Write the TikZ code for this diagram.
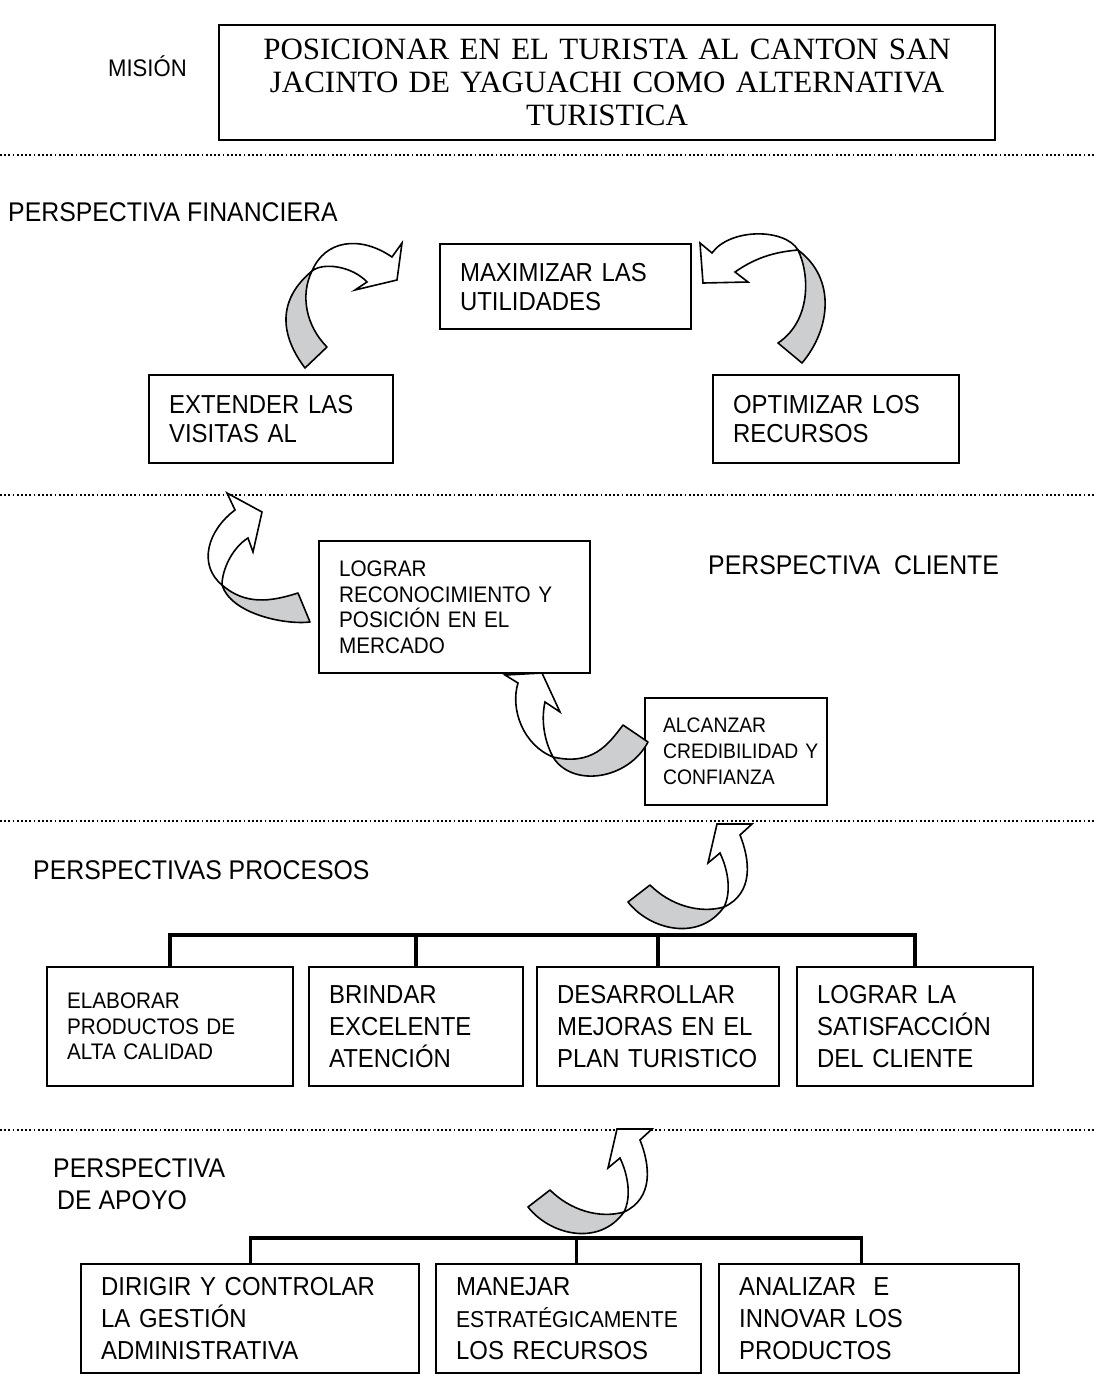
\documentclass[tikz,border=0pt]{standalone}
\usepackage{fontspec}
\setmainfont{Liberation Sans}[FakeStretch=0.92]
\newfontfamily\missionfont{Liberation Serif}
\definecolor{arrowgray}{HTML}{CDCED0}
\newcommand{\twistuparrow}{%
  \draw[garrow] (650,885) .. controls (670,905) and (699,914) .. (724,907)
     .. controls (699,942) and (650,930) .. (628,902) -- cycle;
  \draw[warrow] (724,907) .. controls (754,893) and (750,860) .. (740,835)
     -- (752,824) -- (717,824) -- (708,863) -- (720,853)
     .. controls (729,872) and (731,893) .. (724,907) -- cycle;
}
\begin{document}
\begin{tikzpicture}[x=1pt,y=-1pt,
  box/.style={draw, line width=2.2pt, inner xsep=20pt, inner ysep=0pt, align=left, anchor=north west},
  bigtxt/.style={font=\fontsize{26}{29}\selectfont},
  bigtxtw/.style={font=\fontsize{26}{32}\selectfont},
  smalltxt/.style={font=\fontsize{22.5}{25.5}\selectfont},
  lbl/.style={anchor=west, inner sep=0pt, font=\fontsize{27}{32}\selectfont, align=left},
  tree/.style={line width=4pt},
  stree/.style={line width=3.2pt},
  sep/.style={line width=1.8pt, dash pattern=on 1.8pt off 2.4pt},
  garrow/.style={draw, line width=1.6pt, fill=arrowgray, line join=round},
  warrow/.style={draw, line width=1.6pt, fill=white, line join=miter}]
\useasboundingbox (0,0) rectangle (1096,1382);
\fill[white] (0,0) rectangle (1096,1382);

% separators
\foreach \yy in {155,495,821,1130} \draw[sep] (0,\yy) -- (1096,\yy);

% mission
\node[lbl, font=\fontsize{24}{28}\selectfont] (mision) at (108,66) {MISIÓN};
\node[box, minimum width=776pt, minimum height=115pt, text width=736pt, align=center,
      font=\missionfont\fontsize{31}{33}\selectfont] (mission) at (218,24)
  {POSICIONAR EN EL TURISTA AL CANTON SAN\\JACINTO DE YAGUACHI COMO ALTERNATIVA\\TURISTICA};

% financial perspective
\node[lbl] (pfin) at (8,212) {PERSPECTIVA FINANCIERA};
\node[box, bigtxt, minimum width=251pt, minimum height=85pt, text width=211pt] (maxim) at (439,243)
  {MAXIMIZAR LAS\\UTILIDADES};
\node[box, bigtxt, minimum width=244pt, minimum height=88pt, text width=204pt] (extender) at (148,374)
  {EXTENDER LAS\\VISITAS AL};
\node[box, bigtxt, minimum width=246pt, minimum height=88pt, text width=206pt] (optim) at (712,374)
  {OPTIMIZAR LOS\\RECURSOS};

% arrow extender -> maximizar
\draw[garrow] (305,368) .. controls (280,335) and (277,300) .. (312,271)
   .. controls (300,295) and (306,326) .. (327,347) -- cycle;
\draw[warrow] (312,271) .. controls (325,240) and (360,235) .. (392,257)
   -- (402,243) -- (397,280) -- (355,290) -- (367,282)
   .. controls (352,266) and (323,262) .. (312,271) -- cycle;
% arrow optimizar -> maximizar
\draw[garrow] (802,363) .. controls (830,330) and (837,279) .. (798,250)
   .. controls (810,275) and (811,321) .. (778,343) -- cycle;
\draw[warrow] (798,250) .. controls (785,228) and (730,228) .. (712,253)
   -- (700,243) -- (703,283) -- (748,282) -- (735,272)
   .. controls (755,258) and (774,252) .. (798,250) -- cycle;

% client perspective
\node[lbl] (pcli) at (708,565) {PERSPECTIVA\ \ CLIENTE};
\node[box, smalltxt, minimum width=271pt, minimum height=132pt, text width=231pt] (recon) at (318,540)
  {LOGRAR\\RECONOCIMIENTO~Y\\POSICIÓN~EN~EL\\MERCADO};
\node[box, font=\fontsize{21}{26}\selectfont, inner xsep=18pt, minimum width=182pt, minimum height=107pt, text width=146pt] (alcanzar) at (644,697)
  {ALCANZAR\\CREDIBILIDAD~Y\\CONFIANZA};

% arrow recon -> up
\draw[garrow] (222,585) .. controls (245,605) and (270,602) .. (298,593)
   -- (310,622) .. controls (285,625) and (231,614) .. (222,585) -- cycle;
\draw[warrow] (222,585) .. controls (198,565) and (207,531) .. (235,510)
   -- (227,493) -- (262,512) -- (253,552) -- (248,538)
   .. controls (232,548) and (222,570) .. (222,585) -- cycle;
% arrow alcanzar -> recon
\draw[garrow] (623,725) .. controls (608,745) and (592,766) .. (553,757)
   .. controls (572,788) and (628,780) .. (648,742) -- cycle;
\draw[warrow] (553,757) .. controls (523,745) and (510,709) .. (518,683)
   -- (505,675) -- (542,673) -- (560,712) -- (545,702)
   .. controls (541,720) and (544,740) .. (553,757) -- cycle;

% process perspective
\node[lbl] (pproc) at (33,870) {PERSPECTIVAS PROCESOS};
\node[box, smalltxt, minimum width=246pt, minimum height=119pt, text width=206pt] (elab) at (46,966)
  {ELABORAR\\PRODUCTOS~DE\\ALTA~CALIDAD};
\node[box, bigtxtw, minimum width=214pt, minimum height=119pt, text width=174pt] (brindar) at (308,966)
  {BRINDAR\\EXCELENTE\\ATENCIÓN};
\node[box, bigtxtw, minimum width=242pt, minimum height=119pt, text width=202pt] (desarr) at (536,966)
  {DESARROLLAR\\MEJORAS~EN~EL\\PLAN~TURISTICO};
\node[box, bigtxtw, minimum width=236pt, minimum height=119pt, text width=196pt] (logsat) at (796,966)
  {LOGRAR~LA\\SATISFACCIÓN\\DEL~CLIENTE};
\coordinate (pbus) at (0,935);
\draw[tree] (elab.north) -- (elab.north |- pbus) -- (logsat.north |- pbus) -- (logsat.north);
\draw[tree] (brindar.north) -- (brindar.north |- pbus);
\draw[tree] (desarr.north) -- (desarr.north |- pbus);
\twistuparrow

% support perspective
\node[lbl] (papoyo) at (53,1184) {PERSPECTIVA\\\hspace*{4pt}DE APOYO};
\node[box, bigtxtw, minimum width=338pt, minimum height=109pt, text width=298pt] (dirigir) at (80,1263)
  {DIRIGIR~Y~CONTROLAR\\LA~GESTIÓN\\ADMINISTRATIVA};
\node[box, bigtxtw, minimum width=265pt, minimum height=109pt, text width=225pt] (manejar) at (435,1263)
  {MANEJAR\\{\fontsize{23}{32}\selectfont ESTRATÉGICAMENTE}\\LOS~RECURSOS};
\node[box, bigtxtw, minimum width=300pt, minimum height=109pt, text width=260pt] (analizar) at (718,1263)
  {ANALIZAR\ \ E\\INNOVAR~LOS\\PRODUCTOS};
\coordinate (sbus) at (0,1238);
\draw[stree] (dirigir.north) -- (dirigir.north |- sbus) -- ([xshift=-8pt]analizar.north |- sbus) -- ([xshift=-8pt]analizar.north);
\draw[stree] ([xshift=8pt]manejar.north) -- ([xshift=8pt]manejar.north |- sbus);
\begin{scope}[shift={(-100,305)}]
  \twistuparrow
\end{scope}
\end{tikzpicture}
\end{document}
